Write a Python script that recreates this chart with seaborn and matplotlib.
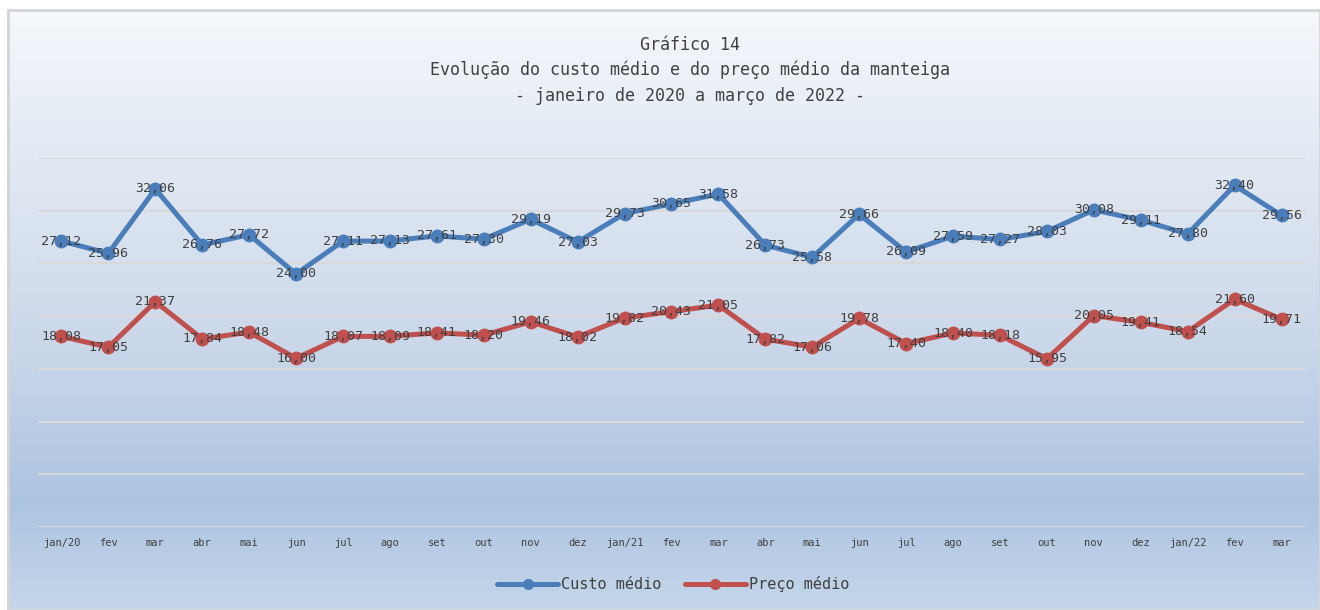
import matplotlib
matplotlib.use("Agg")
import matplotlib.pyplot as plt
from matplotlib.colors import LinearSegmentedColormap
from matplotlib.lines import Line2D
from matplotlib.patches import Rectangle
import numpy as np
import pandas as pd
import seaborn as sns

sns.set_style("white")
plt.rcParams["font.family"] = ["DejaVu Sans Mono", "DejaVu Sans"]

MONTHS = [
    "jan/20", "fev", "mar", "abr", "mai", "jun", "jul", "ago", "set", "out",
    "nov", "dez", "jan/21", "fev", "mar", "abr", "mai", "jun", "jul", "ago",
    "set", "out", "nov", "dez", "jan/22", "fev", "mar",
]
CUSTO = [
    27.12, 25.96, 32.06, 26.76, 27.72, 24.00, 27.11, 27.13, 27.61, 27.30,
    29.19, 27.03, 29.73, 30.65, 31.58, 26.73, 25.58, 29.66, 26.09, 27.59,
    27.27, 28.03, 30.08, 29.11, 27.80, 32.40, 29.56,
]
PRECO = [
    18.08, 17.05, 21.37, 17.84, 18.48, 16.00, 18.07, 18.09, 18.41, 18.20,
    19.46, 18.02, 19.82, 20.43, 21.05, 17.82, 17.06, 19.78, 17.40, 18.40,
    18.18, 15.95, 20.05, 19.41, 18.54, 21.60, 19.71,
]
SERIES = ["Custo médio", "Preço médio"]
PALETTE = {"Custo médio": "#4a7ebb", "Preço médio": "#c0504d"}

idx = np.arange(len(MONTHS))
df = pd.concat(
    [
        pd.DataFrame({"idx": idx, "valor": CUSTO, "serie": SERIES[0]}),
        pd.DataFrame({"idx": idx, "valor": PRECO, "serie": SERIES[1]}),
    ],
    ignore_index=True,
)

W, H = 1320, 610
fig = plt.figure(figsize=(W / 100, H / 100), dpi=100)
fig.patch.set_facecolor("white")

# gradient background panel
bg = fig.add_axes([8 / W, 0, 1 - 8 / W, 1 - 10 / H])
bg.set_axis_off()
cmap = LinearSegmentedColormap.from_list(
    "grad",
    [(0.0, "#f5f8fc"), (0.25, "#e2e9f3"), (0.55, "#cbd8ea"),
     (0.82, "#adc4e0"), (1.0, "#c5d6ea")],
)
grad = np.linspace(0, 1, 256).reshape(-1, 1)
bg.imshow(grad, aspect="auto", cmap=cmap, extent=[0, 1, 0, 1], origin="upper")
bg.set_xlim(0, 1)
bg.set_ylim(0, 1)
bg.add_patch(Rectangle((0, 0), 1, 1, fill=False, edgecolor="#d4d4d4",
                       linewidth=2, transform=bg.transAxes, clip_on=False))

ax = fig.add_axes([38 / W, (H - 527) / H, (1305 - 38) / W, (527 - 158) / H])
ax.patch.set_alpha(0)
ax.set_zorder(2)

sns.lineplot(
    data=df, x="idx", y="valor", hue="serie", palette=PALETTE, ax=ax,
    marker="o", markersize=10, markeredgewidth=0, linewidth=3.6,
    legend=False, zorder=3,
)

for vals in (CUSTO, PRECO):
    for i, v in zip(idx, vals):
        ax.text(i, v, f"{v:.2f}".replace(".", ","), ha="center", va="center",
                fontsize=9.5, color="#404040", zorder=4, clip_on=False)

ax.set_xlim(-0.5, len(MONTHS) - 0.5)
ax.set_ylim(0, 35)
ax.set_yticks(np.arange(0, 36, 5))
ax.set_yticklabels([])
ax.yaxis.grid(True, color="#d9d9d9", linewidth=1.5)
ax.set_axisbelow(True)
ax.set_xticks(idx)
ax.set_xticklabels(MONTHS, fontsize=7.5, color="#404040")
ax.tick_params(axis="both", length=0, pad=8)
ax.set_xlabel("")
ax.set_ylabel("")
for s in ax.spines.values():
    s.set_visible(False)

fig.text(0.523, 1 - 45 / H, "Gráfico 14", ha="center", va="center",
         fontsize=12, color="#404040")
fig.text(0.523, 1 - 70 / H, "Evolução do custo médio e do preço médio da manteiga",
         ha="center", va="center", fontsize=12, color="#404040")
fig.text(0.523, 1 - 96 / H, "- janeiro de 2020 a março de 2022 -",
         ha="center", va="center", fontsize=12, color="#404040")

handles = [
    Line2D([], [], color=PALETTE[s], linewidth=3.6, marker="o", markersize=7)
    for s in SERIES
]
fig.legend(handles, SERIES, loc="center", bbox_to_anchor=(0.51, 1 - 584 / H),
           ncol=2, frameon=False, fontsize=11, handlelength=4,
           columnspacing=1.5, handletextpad=0.2, labelcolor="#404040")

fig.savefig("out.png", dpi=100)
